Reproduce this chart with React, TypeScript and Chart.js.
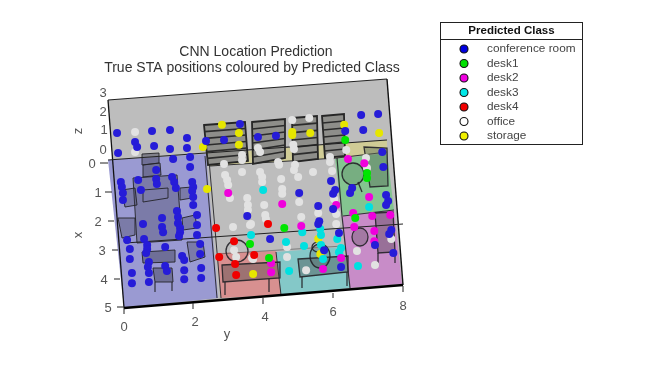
import React, { useEffect, useRef } from "react";
import { Chart, registerables } from "chart.js";

Chart.register(...registerables);

const conferenceRoom = [
  [-0.23,-1.07],[-0.20,-0.38],[0.29,-0.76],[0.35,-0.59],[0.78,-1.14],[0.84,-0.62],[1.30,-1.17],[1.30,-0.52],
  [1.79,-0.90],[1.79,-0.55],[1.39,-0.17],[1.88,-0.24],[1.88,0.10],[0.90,0.21],[2.34,-0.79],[2.86,-0.83],
  [3.32,-1.38],[0.38,0.55],[0.46,0.90],[-0.12,0.62],[-0.09,0.79],[-0.06,1.00],[-0.06,1.24],[0.90,0.52],
  [0.92,0.69],[1.36,0.45],[1.42,0.62],[1.47,0.83],[1.94,0.62],[1.97,0.79],[1.94,0.93],[1.97,1.14],
  [1.97,1.41],[1.50,1.62],[1.07,1.86],[0.52,2.07],[1.07,2.17],[1.10,2.35],[1.53,1.83],[1.53,2.04],
  [1.59,2.21],[1.59,2.35],[1.56,2.48],[2.08,1.76],[2.08,2.10],[2.08,2.45],[0.06,2.62],[0.55,2.59],
  [0.64,2.79],[0.64,2.93],[0.61,3.07],[0.14,2.93],[0.14,3.28],[1.16,2.86],[2.17,2.76],[2.17,3.10],
  [1.65,3.17],[1.71,3.31],[0.69,3.38],[0.66,3.55],[0.69,3.76],[1.16,3.52],[1.21,3.69],[1.71,3.66],
  [2.20,3.59],[0.20,3.76],[0.20,4.11],[0.69,4.07],[1.71,3.97],[2.20,3.93],[3.53,1.79],[6.82,-1.69],
  [7.31,-1.72],[6.88,-1.17],[6.36,-1.14],[3.84,-0.93],[4.36,-0.97],[7.43,-0.41],[7.46,0.10],[5.95,0.59],
  [6.07,0.90],[6.01,1.03],[6.56,0.83],[6.50,1.00],[5.03,1.00],[5.58,1.45],[7.54,1.07],[7.60,1.28],
  [7.54,1.41],[5.61,1.97],[5.58,2.07],[6.18,2.38],[4.19,2.59],[5.75,2.97],[6.24,3.55],[7.22,2.79],
  [7.75,3.07],[7.69,2.28],[7.63,2.41],[6.01,1.55],
];
const desk1 = [[6.36,-0.83],[6.99,0.31],[6.99,0.48],[6.65,1.86],[4.60,2.21],[3.61,2.76],[4.16,3.24]];
const desk2 = [
  [2.98,1.00],[6.44,-0.17],[6.91,-0.03],[7.05,1.14],[4.54,1.38],[6.10,1.41],[6.59,1.69],[7.14,1.79],
  [7.66,1.76],[6.62,2.17],[5.09,2.14],[7.20,2.31],[7.20,2.66],[6.24,3.24],[5.72,3.62],[4.22,3.42],[4.22,3.73],
];
const desk3 = [
  [3.99,0.90],[7.05,1.48],[5.12,2.35],[5.64,2.24],[5.66,2.45],[6.13,2.59],[4.65,2.69],[5.17,2.83],
  [5.66,2.79],[3.64,2.45],[6.24,2.90],[6.18,3.04],[5.72,3.28],[4.74,3.69],[6.73,3.52],
];
const desk4 = [[2.63,2.21],[3.15,2.66],[3.73,3.14],[2.72,3.21],[3.18,3.45],[3.21,3.83],[4.13,2.07]];
const office = [
  [0.29,-1.10],[0.29,-0.41],[3.38,-0.31],[3.38,-0.14],[2.86,0],[3.38,0.28],[2.89,0.38],[2.95,0.55],
  [2.98,0.72],[3.03,1.17],[3.53,1.17],[3.55,1.41],[3.84,-0.55],[3.90,-0.41],[4.83,-1.52],[5.32,-1.59],
  [4.86,-0.66],[4.88,-0.52],[4.42,-0.07],[4.45,0.03],[4.91,0.03],[4.88,0.21],[5.00,0.45],[3.90,0.28],
  [3.96,0.45],[3.96,0.62],[4.51,0.52],[4.54,0.86],[4.54,1.03],[4.02,1.41],[5.03,1.31],[5.43,0.28],
  [5.92,-0.24],[5.92,-0.07],[5.98,0.24],[6.39,-0.48],[6.96,-0.21],[6.99,0.14],[6.04,1.21],[5.09,1.83],
  [4.05,1.76],[4.07,1.90],[5.58,1.69],[6.10,1.72],[6.10,2.07],[4.68,2.86],[4.68,3.21],[5.23,3.66],
  [6.70,3.00],[7.22,3.48],[7.69,2.59],[3.67,3.24],[3.64,2.07],[3.12,2.17],[3.61,2.10],[3.55,1.59],
  [3.15,2.97],[3.21,3.21],[3.70,3.28],
];
const storage = [
  [2.80,-1.35],[2.25,-0.59],[2.37,0.86],[3.29,-1.07],[3.29,-0.66],[4.83,-1.10],[4.83,-1.00],[5.35,-1.07],
  [7.34,-1.07],[6.33,-1.35],[3.70,3.79],[5.58,2.59],[5.64,3.10],
];

const classNames = ["conference room", "desk1", "desk2", "desk3", "desk4", "office", "storage"];
const classValues = [conferenceRoom, desk1, desk2, desk3, desk4, office, storage];
const classColors = ["#261cd8", "#00e600", "#f000dc", "#00e0e0", "#f00000", "#e2e2e2", "#e6e600"];
const legendColors = ["#0000e0", "#00e000", "#f000e0", "#00e8e8", "#f00000", "#ffffff", "#f0f000"];

const titleLines = ["CNN Location Prediction", "True STA positions coloured by Predicted Class"];
const legendTitle = "Predicted Class";
const xTickLabels = ["0", "1", "2", "3", "4", "5"];
const yTickLabels = ["0", "2", "4", "6", "8"];
const zTickLabels = ["3", "2", "1", "0"];

type P = [number, number];

const FONT = '"Liberation Sans", Arial, sans-serif';

function poly(ctx: CanvasRenderingContext2D, pts: P[], fill?: string, stroke?: string, w = 1, close = true) {
  ctx.beginPath();
  pts.forEach((p, i) => (i ? ctx.lineTo(p[0], p[1]) : ctx.moveTo(p[0], p[1])));
  if (close) ctx.closePath();
  if (fill) { ctx.fillStyle = fill; ctx.fill(); }
  if (stroke) { ctx.strokeStyle = stroke; ctx.lineWidth = w; ctx.stroke(); }
}

function ell(ctx: CanvasRenderingContext2D, x: number, y: number, rx: number, ry: number, stroke: string, w = 1.3, fill?: string) {
  ctx.beginPath();
  ctx.ellipse(x, y, rx, ry, 0, 0, Math.PI * 2);
  if (fill) { ctx.fillStyle = fill; ctx.fill(); }
  ctx.strokeStyle = stroke;
  ctx.lineWidth = w;
  ctx.stroke();
}

function shelf(ctx: CanvasRenderingContext2D, tl: P, tr: P, br: P, bl: P, n: number) {
  poly(ctx, [tl, tr, br, bl], "#8e8e8a", "#262626", 1.8);
  for (let i = 1; i < n; i++) {
    const t = i / n;
    const a: P = [tl[0] + (bl[0] - tl[0]) * t, tl[1] + (bl[1] - tl[1]) * t];
    const b: P = [tr[0] + (br[0] - tr[0]) * t, tr[1] + (br[1] - tr[1]) * t];
    poly(ctx, [a, b], undefined, "#2c2c2c", 1.7, false);
  }
}

const floorPlugin = {
  id: "floorPlan",
  beforeDatasetsDraw(chart: any) {
    const ctx: CanvasRenderingContext2D = chart.ctx;
    ctx.save();
    const ink = "rgba(35,35,40,0.9)";
    const shade = "rgba(60,60,80,0.32)";
    // walls and office floor
    poly(ctx, [[108,100],[387,79],[403,285],[124,308]], "#bdbdbd");
    // rooms
    poly(ctx, [[207,154],[387,140],[387,153],[337,158],[210,166]], "#d0cc96");
    poly(ctx, [[108,160],[206,154],[218,298],[124,308]], "#9a9ad2");
    poly(ctx, [[335,159],[387,153],[394,210],[342,216]], "#84c490");
    poly(ctx, [[342,216],[394,210],[402,284],[350,288]], "#c88cc8");
    poly(ctx, [[276,252],[343,247],[350,288],[281,295]], "#84c8c8");
    poly(ctx, [[217,253],[276,251],[281,295],[221,298]], "#d89090");
    // room walls
    poly(ctx, [[205,156],[217,298]], undefined, ink, 1, false);
    poly(ctx, [[209,160],[221,298]], undefined, ink, 1, false);
    poly(ctx, [[337,158],[342,216],[350,288]], undefined, ink, 1.2, false);
    poly(ctx, [[343,216],[394,210]], undefined, ink, 1.2, false);
    poly(ctx, [[276,252],[281,295]], undefined, ink, 1, false);
    poly(ctx, [[217,254],[343,246]], undefined, "rgba(60,60,60,.5)", 1, false);
    poly(ctx, [[210,166],[337,158],[387,152]], undefined, ink, 1.2, false);
    // storage shelves
    shelf(ctx, [204,125],[245,122],[248,161],[208,165],6);
    shelf(ctx, [252,122],[285,119],[285,158],[253,164],6);
    shelf(ctx, [292,118],[317,116],[318,159],[293,162],6);
    shelf(ctx, [322,116],[344,114],[345,156],[325,158],6);
    // conference-room furniture
    poly(ctx, [[133,178],[177,175],[182,240],[137,243]], shade, ink);
    poly(ctx, [[142,154],[159,153],[159,163],[142,165]], "rgba(70,70,90,.5)", ink);
    poly(ctx, [[143,165],[160,163],[161,175],[143,177]], "rgba(70,70,90,.5)", ink);
    poly(ctx, [[143,190],[168,188],[168,198],[143,202]], undefined, ink);
    poly(ctx, [[122,190],[135,188],[137,205],[125,207]], shade, ink);
    poly(ctx, [[118,218],[135,218],[135,235],[122,238]], shade, ink);
    poly(ctx, [[180,188],[192,187],[192,198],[180,200]], shade, ink);
    poly(ctx, [[182,218],[195,215],[197,228],[183,230]], shade, ink);
    poly(ctx, [[187,242],[203,242],[205,257],[190,262]], shade, ink);
    poly(ctx, [[142,252],[175,250],[175,262],[143,263]], "rgba(60,60,80,.45)", ink);
    poly(ctx, [[153,268],[172,268],[173,282],[155,282]], "rgba(60,60,80,.45)", ink);
    poly(ctx, [[155,282],[155,292]], undefined, ink, 1.2, false);
    poly(ctx, [[172,282],[172,291]], undefined, ink, 1.2, false);
    // desk4 room
    poly(ctx, [[222,265],[280,262],[280,278],[223,282]], "rgba(70,70,70,.4)", ink, 1.3);
    poly(ctx, [[225,282],[225,295]], undefined, ink, 1.3, false);
    poly(ctx, [[269,279],[269,292]], undefined, ink, 1.3, false);
    ell(ctx, 237, 251, 11, 11, ink);
    // desk3 room
    poly(ctx, [[298,259],[348,256],[348,272],[300,277]], "rgba(70,70,70,.4)", ink, 1.3);
    poly(ctx, [[302,277],[302,288]], undefined, ink, 1.3, false);
    poly(ctx, [[347,272],[347,286]], undefined, ink, 1.3, false);
    ell(ctx, 320, 256, 10, 12, ink, 1.3, "rgba(80,80,80,.25)");
    ell(ctx, 318, 247, 6, 5, ink);
    // desk2 room
    poly(ctx, [[375,213],[393,212],[395,252],[378,253]], "rgba(80,70,80,.4)", ink, 1.3);
    poly(ctx, [[378,253],[378,263]], undefined, ink, 1.3, false);
    poly(ctx, [[395,252],[395,263]], undefined, ink, 1.3, false);
    ell(ctx, 360, 237, 8, 9, ink, 1.3, "rgba(80,80,80,.3)");
    // desk1 room
    poly(ctx, [[364,147],[387,148],[388,186],[370,187]], "rgba(90,110,90,.45)", ink, 1.3);
    ell(ctx, 353, 174, 11, 11, ink, 1.3, "rgba(70,90,70,.2)");
    poly(ctx, [[358,182],[362,192]], undefined, ink, 1.3, false);
    // box edges
    poly(ctx, [[108,100],[387,79]], undefined, "#222", 1.1, false);
    poly(ctx, [[108,100],[124,308]], undefined, "#111", 1.3, false);
    poly(ctx, [[387,79],[403,285]], undefined, "#111", 1.4, false);
    poly(ctx, [[108,160],[387,140]], undefined, "#222", 1.1, false);
    poly(ctx, [[125,243],[403,224]], undefined, "#222", 1, false);
    poly(ctx, [[124,308],[403,285]], undefined, "#000", 2.6, false);
    ctx.restore();
  },
  afterDraw(chart: any) {
    const ctx: CanvasRenderingContext2D = chart.ctx;
    ctx.save();
    ctx.textBaseline = "middle";
    ctx.textAlign = "center";
    // title
    ctx.fillStyle = "#333";
    ctx.font = `14px ${FONT}`;
    ctx.fillText(titleLines[0], 256, 52);
    ctx.fillText(titleLines[1], 252, 68);
    // ticks
    ctx.fillStyle = "#555";
    ctx.font = `13px ${FONT}`;
    const xPos: P[] = [[92,164],[98,193],[98,222],[102,251],[104,280],[108,308]];
    const xMark: [number, number, number][] = [[100,108,163],[105,112,192],[108,114,221],[112,118,250],[114,120,279],[117,123,307]];
    xTickLabels.forEach((t, i) => {
      ctx.fillText(t, xPos[i][0], xPos[i][1]);
      poly(ctx, [[xMark[i][0], xMark[i][2]], [xMark[i][1], xMark[i][2]]], undefined, "#222", 1, false);
    });
    const yPos: P[] = [[124,327],[195,322],[265,317],[333,312],[403,306]];
    const yMark: [number, number, number][] = [[124,308,314],[193,303,309],[263,298,304],[333,293,298],[403,286,292]];
    yTickLabels.forEach((t, i) => {
      ctx.fillText(t, yPos[i][0], yPos[i][1]);
      poly(ctx, [[yMark[i][0], yMark[i][1]], [yMark[i][0], yMark[i][2]]], undefined, "#222", 1, false);
    });
    const zPos: P[] = [[103,93],[103,112],[104,130],[103,150]];
    zTickLabels.forEach((t, i) => ctx.fillText(t, zPos[i][0], zPos[i][1]));
    // axis titles
    ctx.fillText("y", 227, 334);
    for (const [t, y] of [["z", 131], ["x", 235]] as [string, number][]) {
      ctx.save();
      ctx.translate(78, y);
      ctx.rotate(-Math.PI / 2);
      ctx.fillText(t, 0, 0);
      ctx.restore();
    }
    // legend
    ctx.fillStyle = "#fff";
    ctx.fillRect(440.5, 22.5, 142, 122);
    ctx.strokeStyle = "#222";
    ctx.lineWidth = 1;
    ctx.strokeRect(440.5, 22.5, 142, 122);
    ctx.beginPath();
    ctx.moveTo(440.5, 39.5);
    ctx.lineTo(582.5, 39.5);
    ctx.stroke();
    ctx.fillStyle = "#111";
    ctx.font = `bold 11.5px ${FONT}`;
    ctx.fillText(legendTitle, 511.5, 31);
    ctx.font = `11.8px ${FONT}`;
    ctx.textAlign = "left";
    classNames.forEach((name, i) => {
      const y = 49 + i * 14.5;
      ctx.beginPath();
      ctx.arc(464, y, 4, 0, Math.PI * 2);
      ctx.fillStyle = legendColors[i];
      ctx.fill();
      ctx.strokeStyle = "#111";
      ctx.lineWidth = 1.1;
      ctx.stroke();
      ctx.fillStyle = "#444";
      ctx.fillText(name, 487, y);
    });
    ctx.restore();
  },
};

export default function App() {
  const ref = useRef<HTMLCanvasElement>(null);
  useEffect(() => {
    if (!ref.current) return;
    const chart = new Chart(ref.current, {
      type: "scatter",
      data: {
        datasets: classNames.map((name, i) => ({
          label: name,
          data: classValues[i].map(([y, x]) => ({ x: y, y: x })),
          backgroundColor: classColors[i],
          borderWidth: 0,
          pointRadius: 4,
          clip: false as any,
        })),
      },
      options: {
        animation: false,
        responsive: false,
        layout: { padding: { left: 90.375, right: 217.375, top: 91.5, bottom: 59 } },
        plugins: { legend: { display: false }, title: { display: false }, tooltip: { enabled: false } },
        scales: {
          x: { type: "linear", min: -1, max: 9, display: false },
          y: { type: "linear", min: -2.5, max: 5, reverse: true, display: false },
        },
      },
      plugins: [floorPlugin],
    });
    return () => chart.destroy();
  }, []);
  return (
    <div style={{ position: "absolute", left: 0, top: 0, width: 654, height: 368, background: "#fff" }}>
      <canvas ref={ref} width={654} height={368} style={{ display: "block" }} />
    </div>
  );
}
